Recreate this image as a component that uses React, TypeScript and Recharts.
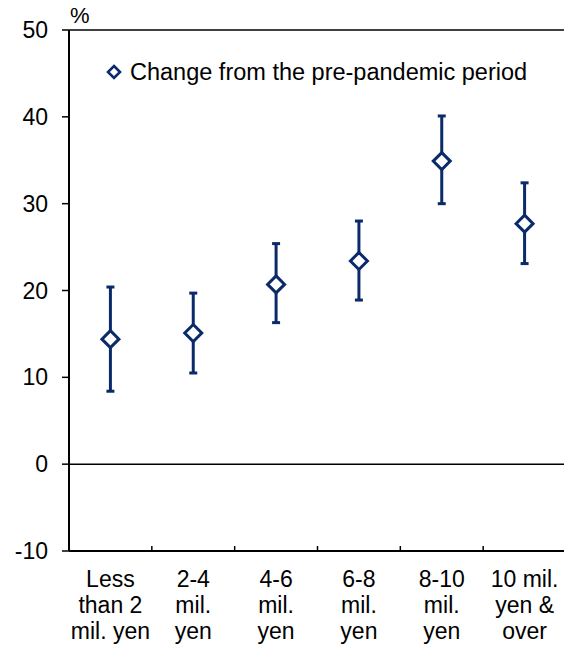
import React from "react";
import { ComposedChart, Scatter, XAxis, YAxis, ErrorBar, ReferenceLine, Legend } from "recharts";

const categories = [
  "Less\nthan 2\nmil. yen",
  "2-4\nmil.\nyen",
  "4-6\nmil.\nyen",
  "6-8\nmil.\nyen",
  "8-10\nmil.\nyen",
  "10 mil.\nyen &\nover",
];
const changeValues = [14.4, 15.1, 20.7, 23.4, 34.9, 27.7];
const lowValues = [8.4, 10.5, 16.3, 18.9, 30.0, 23.1];
const highValues = [20.4, 19.7, 25.4, 28.0, 40.1, 32.4];
const yTicks = [-10, 0, 10, 20, 30, 40, 50];
const seriesName = "Change from the pre-pandemic period";

const NAVY = "#0a2a6a";
const FONT = "'Liberation Sans', Arial, sans-serif";

const data = categories.map((cat, i) => ({
  cat,
  value: changeValues[i],
  err: [changeValues[i] - lowValues[i], highValues[i] - changeValues[i]],
}));

const Diamond = (props: any) => {
  const { cx, cy } = props;
  if (cx == null || cy == null) return null;
  const r = 8.5;
  return (
    <path
      d={`M${cx},${cy - r} L${cx + r},${cy} L${cx},${cy + r} L${cx - r},${cy} Z`}
      fill="#ffffff"
      stroke={NAVY}
      strokeWidth={3}
    />
  );
};

const CatTick = (props: any) => {
  const { x, y, payload, index } = props;
  const half = payload && typeof payload.offset === "number" && payload.offset > 0 ? payload.offset : 41.4;
  const lines = String(payload.value).split("\n");
  return (
    <g>
      <line x1={x - half} x2={x - half} y1={y} y2={y - 5} stroke="#000" strokeWidth={1.5} />
      {index === categories.length - 1 && (
        <line x1={x + half} x2={x + half} y1={y} y2={y - 5} stroke="#000" strokeWidth={1.5} />
      )}
      <text textAnchor="middle" fontSize={23} fontFamily={FONT} fill="#000">
        {lines.map((l, i) => (
          <tspan key={i} x={x} y={y + 36 + i * 26}>
            {l}
          </tspan>
        ))}
      </text>
    </g>
  );
};

const LegendContent = () => (
  <div style={{ display: "flex", alignItems: "center", fontFamily: FONT, fontSize: 23.5, lineHeight: "26px", color: "#000", whiteSpace: "nowrap" }}>
    <svg width={16} height={16} style={{ marginRight: 8 }}>
      <path d="M8,2 L14,8 L8,14 L2,8 Z" fill="#fff" stroke={NAVY} strokeWidth={2.6} />
    </svg>
    <span>{seriesName}</span>
  </div>
);

export default function App() {
  return (
    <div style={{ position: "absolute", left: 0, top: 0, width: 564, height: 649, overflow: "hidden", background: "#fff" }}>
      <ComposedChart
        width={566}
        height={649}
        data={data}
        margin={{ top: 30, right: 0, bottom: 8, left: 9 }}
      >
        <XAxis
          dataKey="cat"
          type="category"
          scale="band"
          height={90}
          interval={0}
          tickSize={0}
          tickMargin={0}
          axisLine={{ stroke: "#000", strokeWidth: 2 }}
          tickLine={false}
          tick={<CatTick />}
        />
        <YAxis
          type="number"
          domain={[-10, 50]}
          ticks={yTicks}
          interval={0}
          width={60}
          tickSize={7}
          tickMargin={14}
          axisLine={{ stroke: "#000", strokeWidth: 2 }}
          tickLine={{ stroke: "#000", strokeWidth: 1.5 }}
          tick={{ fill: "#000", fontSize: 23, fontFamily: FONT }}
        />
        <ReferenceLine y={0} stroke="#000" strokeWidth={1.5} />
        <ReferenceLine y={50} stroke="#000" strokeWidth={1.5} />
        <Legend
          layout="horizontal"
          verticalAlign="middle"
          align="center"
          content={<LegendContent />}
          wrapperStyle={{ position: "absolute", top: 59, left: 106, width: "auto", height: "auto" }}
        />
        <Scatter
          name={seriesName}
          dataKey="value"
          fill={NAVY}
          shape={<Diamond />}
          isAnimationActive={false}
        >
          <ErrorBar dataKey="err" direction="y" width={4} strokeWidth={3} stroke={NAVY} isAnimationActive={false} />
        </Scatter>
        <text x={70} y={23} fontSize={22} fontFamily={FONT} fill="#000">%</text>
      </ComposedChart>
    </div>
  );
}
